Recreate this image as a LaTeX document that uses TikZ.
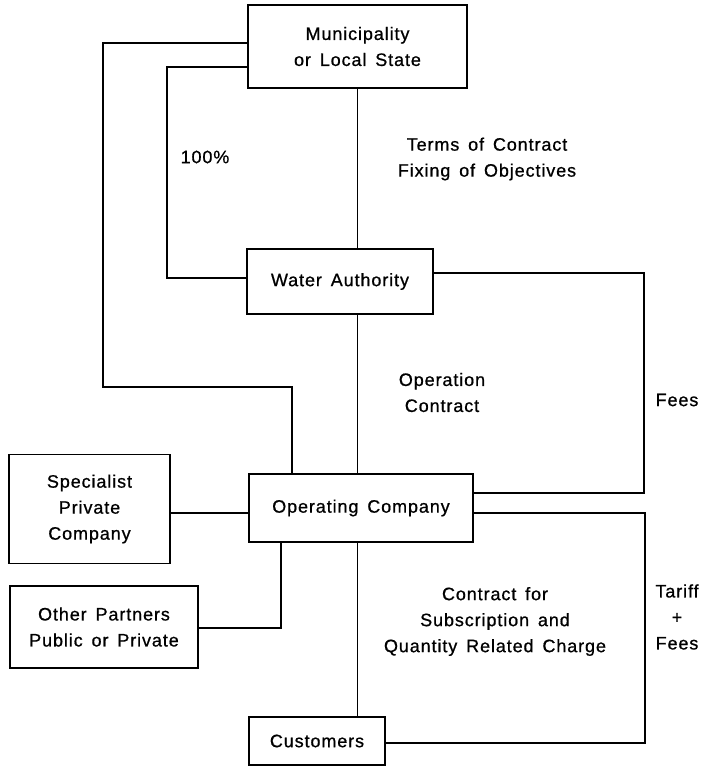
\documentclass[tikz,border=0pt]{standalone}
\usepackage{fontspec}
\setmainfont{Liberation Sans}[WordSpace=1.5, LetterSpace=5, FakeBold=0.8]
\begin{document}
\begin{tikzpicture}[x=1pt,y=-1pt,
  every node/.style={font=\fontsize{18}{26}\selectfont, align=center, inner sep=0pt},
  box/.style={draw, line width=1.7pt, minimum width=#1},
  link/.style={line width=1.3pt}]
\useasboundingbox (0,0) rectangle (711,766);

% boxes
\node[box=219pt, minimum height=83pt] (mun)   at (357.5,46.5) {Municipality\\or Local State};
\node[box=186pt, minimum height=65pt] (wa)    at (340,281.5) {Water Authority};
\node[box=224pt, minimum height=68pt] (oc)    at (361,508) {Operating Company};
\node[box=161pt, minimum height=109pt] (spec) at (89.5,509) {Specialist\\Private\\Company};
\node[box=188pt, minimum height=82pt] (other) at (104,627) {Other Partners\\Public or Private};
\node[box=136pt, minimum height=48pt] (cust)  at (317,741) {Customers};

% vertical spine
\draw[link] (mun.south) -- (mun.south |- wa.north);
\draw[link] (mun.south |- wa.south) -- (mun.south |- oc.north);
\draw[link] (mun.south |- oc.south) -- (mun.south |- cust.north);

% municipality to operating company (outer loop)
\draw[link] (mun.west |- 0,43) -- (103,43) -- (103,387) -- (292,387) -- (292,0 |- oc.north);
% municipality to water authority (100%)
\draw[link] (mun.west |- 0,67) -- (167,67) -- (167,278) -- (wa.west |- 0,278);
% fees loop
\draw[link] (wa.east |- 0,273) -- (644,273) -- (644,493) -- (oc.east |- 0,493);
% tariff loop
\draw[link] (oc.east |- 0,513) -- (645,513) -- (645,743) -- (cust.east |- 0,743);
% partners
\draw[link] (spec.east |- 0,513) -- (oc.west |- 0,513);
\draw[link] (281,0 |- oc.south) -- (281,628) -- (other.east |- 0,628);

% labels
\node (l100) at (205,157) {100\%};
\node (lterms) at (487,159) {Terms of Contract\\Fixing of Objectives};
\node (lop) at (442,392.5) {Operation\\Contract};
\node (lfees) at (677,400) {Fees};
\node (lcontract) at (495,621.5) {Contract for\\Subscription and\\Quantity Related Charge};
\node (ltariff) at (677,617) {Tariff\\+\\Fees};
\end{tikzpicture}
\end{document}
